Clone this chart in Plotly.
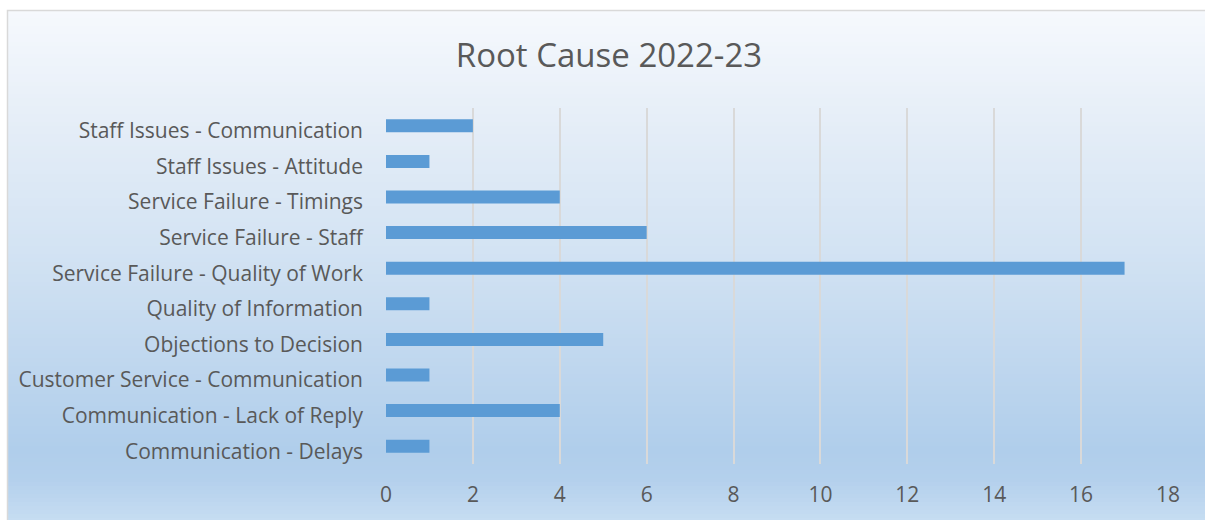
import plotly.graph_objects as go

# Complaint root causes (bottom to top) and their counts
causes = [
    "Communication - Delays",
    "Communication - Lack of Reply",
    "Customer Service - Communication",
    "Objections to Decision",
    "Quality of Information",
    "Service Failure - Quality of Work",
    "Service Failure - Staff",
    "Service Failure - Timings",
    "Staff Issues - Attitude",
    "Staff Issues - Communication",
]
counts = [1, 4, 1, 5, 1, 17, 6, 4, 1, 2]
x_ticks = [0, 2, 4, 6, 8, 10, 12, 14, 16, 18]

W, H = 1205, 520
ML, MR, MT, MB = 386, 37, 108, 56
PW, PH = W - ML - MR, H - MT - MB


def px_x(p):
    return (p - ML) / PW


def px_y(p):
    return 1 - (p - MT) / PH


def mix(c1, c2, t):
    return tuple(round(a + (b - a) * t) for a, b in zip(c1, c2))


# background gradient stops: (pixel row, rgb)
stops = [
    (10, (246, 249, 253)),
    (130, (228, 237, 247)),
    (250, (211, 227, 243)),
    (370, (190, 214, 238)),
    (450, (176, 206, 235)),
    (480, (180, 208, 236)),
    (520, (198, 221, 242)),
]


def grad_color(y):
    for (y0, c0), (y1, c1) in zip(stops, stops[1:]):
        if y0 <= y <= y1:
            return "rgb(%d,%d,%d)" % mix(c0, c1, (y - y0) / (y1 - y0))
    return "rgb(%d,%d,%d)" % stops[-1][1]


shapes = []
step = 4
for y in range(10, H, step):
    shapes.append(dict(
        type="rect", xref="paper", yref="paper", layer="below",
        x0=px_x(7), x1=px_x(W + 5), y0=px_y(min(y + step + 1, H + 2)), y1=px_y(y),
        fillcolor=grad_color(y + step / 2), line=dict(width=0),
    ))
# chart frame
shapes.append(dict(
    type="rect", xref="paper", yref="paper", layer="below",
    x0=px_x(7.5), x1=px_x(W + 5), y0=px_y(H + 5), y1=px_y(10.5),
    fillcolor="rgba(0,0,0,0)", line=dict(color="#d9d9d9", width=1.5),
))

fig = go.Figure(go.Bar(
    x=counts, y=causes, orientation="h",
    marker=dict(color="#5b9bd5", line=dict(width=0)),
    width=0.365,
))

font = "'Open Sans', Calibri, sans-serif"
fig.update_layout(
    width=W, height=H,
    margin=dict(l=ML, r=MR, t=MT, b=MB),
    paper_bgcolor="white",
    plot_bgcolor="rgba(0,0,0,0)",
    shapes=shapes,
    showlegend=False,
    title=dict(
        text="Root Cause 2022-23", x=609 / W, xref="container", xanchor="center",
        y=1 - 55 / H, yref="container", yanchor="middle",
        font=dict(family=font, size=33, color="#595959"),
    ),
    xaxis=dict(
        range=[0, 18], tickvals=x_ticks, showgrid=True,
        gridcolor="#d9d9d9", gridwidth=2, zeroline=False,
        showline=False, ticks="", ticklabelstandoff=16,
        tickfont=dict(family=font, size=21, color="#595959"),
        fixedrange=True,
    ),
    yaxis=dict(
        type="category", categoryorder="array", categoryarray=causes,
        range=[-0.5, 9.5], showgrid=False, zeroline=False,
        showline=False, ticks="", ticklabelstandoff=22, ticklabelshift=5,
        tickfont=dict(family=font, size=21, color="#595959"),
        fixedrange=True,
    ),
)

fig.write_html("out.html")
